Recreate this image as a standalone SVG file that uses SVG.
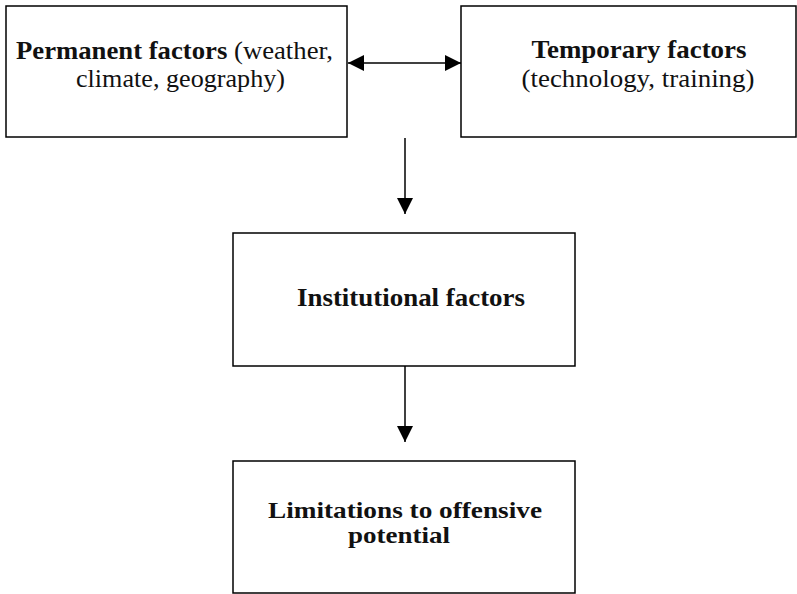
<svg xmlns="http://www.w3.org/2000/svg" width="797" height="594" viewBox="0 0 797 594">
<style>
.box{fill:#fff;stroke:#000;stroke-width:1.5}
.t{font-family:"Liberation Serif","Times New Roman",serif;font-size:26px;fill:#111}
.s{font-size:24px}
.b{font-weight:bold}
.c{stroke:#000;stroke-width:1.5;fill:none}
</style>
<defs>
<marker id="ah" viewBox="0 0 16 16" refX="16" refY="8" markerWidth="16" markerHeight="16" markerUnits="userSpaceOnUse" orient="auto-start-reverse">
<path d="M0,0 L16,8 L0,16 Z" fill="#000"/>
</marker>
</defs>
<rect width="797" height="594" fill="#fff"/>
<g id="permanent">
<rect class="box" x="6" y="6" width="341" height="131"/>
<text class="t" x="16" y="59" textLength="317" lengthAdjust="spacingAndGlyphs"><tspan class="b">Permanent factors</tspan> (weather,</text>
<text class="t" x="180.5" y="87" text-anchor="middle" textLength="209" lengthAdjust="spacingAndGlyphs">climate, geography)</text>
</g>
<g id="temporary">
<rect class="box" x="461" y="6" width="335" height="131"/>
<text class="t b" x="639" y="58" text-anchor="middle" textLength="215" lengthAdjust="spacingAndGlyphs">Temporary factors</text>
<text class="t" x="638" y="87" text-anchor="middle" textLength="233" lengthAdjust="spacingAndGlyphs">(technology, training)</text>
</g>
<g id="institutional">
<rect class="box" x="233" y="233" width="342" height="133"/>
<text class="t b" x="411" y="306" text-anchor="middle" textLength="228" lengthAdjust="spacingAndGlyphs">Institutional factors</text>
</g>
<g id="limitations">
<rect class="box" x="233" y="461" width="342" height="132"/>
<text class="t s b" x="405" y="518" text-anchor="middle" textLength="274" lengthAdjust="spacingAndGlyphs">Limitations to offensive</text>
<text class="t s b" x="399" y="543" text-anchor="middle" textLength="102" lengthAdjust="spacingAndGlyphs">potential</text>
</g>
<g id="connectors">
<line class="c" x1="348" y1="63" x2="461" y2="63" marker-start="url(#ah)" marker-end="url(#ah)"/>
<line class="c" x1="405" y1="138" x2="405" y2="214" marker-end="url(#ah)"/>
<line class="c" x1="405" y1="366" x2="405" y2="442" marker-end="url(#ah)"/>
</g>
</svg>
